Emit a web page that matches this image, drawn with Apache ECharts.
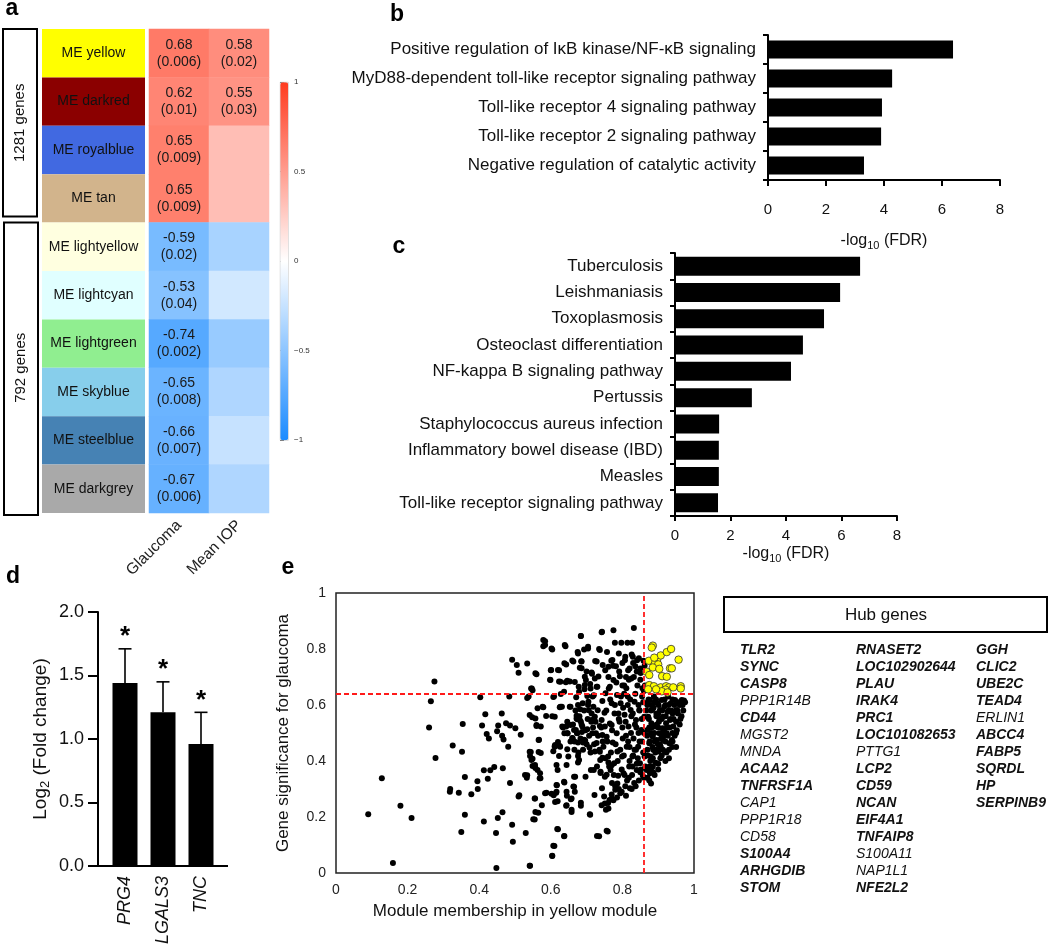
<!DOCTYPE html>
<html><head><meta charset="utf-8">
<script src="https://cdn.jsdelivr.net/npm/echarts@6/dist/echarts.min.js"></script>
<style>html,body{margin:0;padding:0;background:#fff}#c{width:1050px;height:951px}</style>
</head><body><div id="c"></div>
<script>
// ---------- DATA ----------
// Panel a: module–trait relationships
const modules = ['yellow','darkred','royalblue','tan','lightyellow','lightcyan','lightgreen','skyblue','steelblue','darkgrey'];
const traitNames = ['Glaucoma','Mean IOP'];
const glaucomaR = [0.68,0.62,0.65,0.65,-0.59,-0.53,-0.74,-0.65,-0.66,-0.67];
const glaucomaP = ['0.006','0.01','0.009','0.009','0.02','0.04','0.002','0.008','0.007','0.006'];
const iopR = [0.58,0.55,0.33,0.33,-0.38,-0.2,-0.45,-0.35,-0.25,-0.35];
const iopP = ['0.02','0.03',null,null,null,null,null,null,null,null];
const groupLabels = ['1281 genes','792 genes'];
const groupSizes = [4,6];

// Panel b: GO terms
const goTerms = ['Positive regulation of I\u03baB kinase/NF-\u03baB signaling','MyD88-dependent toll-like receptor signaling pathway','Toll-like receptor 4 signaling pathway','Toll-like receptor 2 signaling pathway','Negative regulation of catalytic activity'];
const goFDR = [6.38,4.28,3.93,3.9,3.31];

// Panel c: KEGG pathways
const keggTerms = ['Tuberculosis','Leishmaniasis','Toxoplasmosis','Osteoclast differentiation','NF-kappa B signaling pathway','Pertussis','Staphylococcus aureus infection','Inflammatory bowel disease (IBD)','Measles','Toll-like receptor signaling pathway'];
const keggFDR = [6.67,5.95,5.37,4.61,4.18,2.77,1.59,1.58,1.58,1.55];

// Panel d: qPCR
const qpcrGenes = ['PRG4','LGALS3','TNC'];
const qpcrMean = [1.44,1.21,0.96];
const qpcrErr = [0.27,0.24,0.25];
const qpcrSig = ['*','*','*'];

// Panel e: module membership vs gene significance
const mmCut = 0.865, gsCut = 0.635;
const genePoints = [
[0.09,0.21],[0.128,0.338],[0.159,0.036],[0.18,0.24],[0.211,0.196],[0.26,0.52],[0.265,0.613],[0.275,0.684],[0.278,0.411],[0.326,0.455],[0.319,0.30],[0.318,0.29],[0.343,0.287],[0.35,0.146],[0.352,0.433],[0.354,0.532],[0.36,0.343],[0.36,0.208],[0.378,0.281],[0.395,0.328],[0.396,0.30],[0.403,0.628],[0.408,0.527],[0.413,0.367],[0.413,0.184],[0.417,0.567],[0.421,0.496],[0.424,0.337],[0.427,0.48],[0.431,0.367],[0.442,0.379],[0.447,0.143],[0.448,0.018],[0.45,0.506],[0.452,0.196],[0.453,0.527],[0.463,0.57],[0.464,0.49],[0.466,0.374],[0.465,0.217],[0.468,0.477],[0.475,0.535],[0.481,0.451],[0.484,0.63],[0.486,0.321],[0.486,0.527],[0.492,0.172],[0.494,0.112],[0.492,0.762],[0.501,0.517],[0.505,0.743],[0.51,0.273],[0.512,0.278],[0.51,0.715],[0.516,0.494],[0.53,0.143],[0.533,0.34],[0.534,0.349],[0.534,0.625],[0.534,0.748],[0.538,0.63],[0.544,0.432],[0.542,0.418],[0.542,0.026],[0.545,0.659],[0.549,0.653],[0.549,0.382],[0.549,0.408],[0.551,0.192],[0.555,0.266],[0.557,0.375],[0.557,0.552],[0.557,0.218],[0.56,0.71],[0.56,0.529],[0.566,0.475],[0.566,0.432],[0.57,0.356],[0.571,0.338],[0.575,0.242],[0.577,0.594],[0.579,0.81],[0.584,0.828],[0.587,0.561],[0.588,0.287],[0.598,0.69],[0.6,0.724],[0.604,0.798],[0.604,0.062],[0.607,0.097],[0.608,0.278],[0.607,0.435],[0.609,0.63],[0.611,0.558],[0.611,0.451],[0.612,0.457],[0.615,0.287],[0.617,0.313],[0.618,0.157],[0.619,0.368],[0.619,0.256],[0.623,0.418],[0.623,0.724],[0.623,0.684],[0.626,0.451],[0.627,0.594],[0.628,0.639],[0.631,0.594],[0.634,0.52],[0.637,0.131],[0.638,0.499],[0.638,0.323],[0.641,0.81],[0.642,0.681],[0.643,0.24],[0.643,0.745],[0.643,0.523],[0.645,0.276],[0.646,0.54],[0.647,0.499],[0.649,0.416],[0.653,0.684],[0.655,0.594],[0.656,0.263],[0.658,0.226],[0.66,0.759],[0.661,0.481],[0.663,0.309],[0.666,0.44],[0.667,0.29],[0.668,0.344],[0.67,0.511],[0.671,0.628],[0.672,0.562],[0.674,0.549],[0.675,0.789],[0.676,0.466],[0.678,0.665],[0.679,0.404],[0.681,0.733],[0.682,0.585],[0.684,0.846],[0.684,0.24],[0.684,0.54],[0.685,0.756],[0.687,0.504],[0.689,0.606],[0.69,0.466],[0.693,0.798],[0.694,0.656],[0.696,0.473],[0.698,0.689],[0.7,0.72],[0.702,0.513],[0.704,0.808],[0.705,0.612],[0.706,0.581],[0.708,0.448],[0.71,0.208],[0.71,0.675],[0.712,0.368],[0.713,0.54],[0.715,0.712],[0.717,0.63],[0.719,0.594],[0.722,0.279],[0.723,0.434],[0.723,0.558],[0.724,0.757],[0.726,0.499],[0.728,0.665],[0.729,0.38],[0.731,0.581],[0.733,0.702],[0.735,0.131],[0.735,0.8],[0.737,0.525],[0.738,0.404],[0.739,0.357],[0.742,0.242],[0.742,0.86],[0.743,0.303],[0.744,0.614],[0.745,0.743],[0.747,0.451],[0.749,0.273],[0.75,0.572],[0.752,0.724],[0.754,0.226],[0.756,0.487],[0.756,0.351],[0.757,0.789],[0.759,0.148],[0.76,0.416],[0.762,0.659],[0.764,0.261],[0.765,0.534],[0.767,0.368],[0.769,0.758],[0.77,0.606],[0.771,0.321],[0.773,0.466],[0.775,0.867],[0.775,0.689],[0.777,0.392],[0.778,0.57],[0.779,0.822],[0.78,0.297],[0.782,0.738],[0.784,0.499],[0.785,0.636],[0.786,0.434],[0.788,0.347],[0.79,0.784],[0.792,0.54],[0.793,0.703],[0.794,0.285],[0.795,0.606],[0.797,0.822],[0.799,0.416],[0.8,0.75],[0.801,0.48],[0.803,0.356],[0.805,0.67],[0.806,0.565],[0.808,0.772],[0.81,0.276],[0.812,0.451],[0.814,0.822],[0.815,0.63],[0.816,0.724],[0.817,0.523],[0.819,0.38],[0.821,0.303],[0.823,0.582],[0.825,0.695],[0.827,0.822],[0.828,0.416],[0.829,0.772],[0.831,0.48],[0.832,0.875],[0.833,0.321],[0.834,0.612],[0.836,0.738],[0.838,0.546],[0.84,0.368],[0.842,0.67],[0.844,0.451],[0.846,0.767],[0.847,0.582],[0.849,0.392],[0.851,0.714],[0.853,0.511],[0.855,0.63],[0.857,0.347],[0.859,0.758],[0.861,0.558],[0.862,0.416],[0.863,0.67],
[0.868,0.606],[0.87,0.511],[0.872,0.558],[0.875,0.463],[0.877,0.618],[0.879,0.416],[0.881,0.535],[0.883,0.582],[0.885,0.487],[0.886,0.44],[0.888,0.63],[0.891,0.523],[0.893,0.394],[0.895,0.57],[0.896,0.475],[0.898,0.606],[0.9,0.434],[0.902,0.54],[0.903,0.499],[0.905,0.582],[0.907,0.451],[0.91,0.618],[0.912,0.517],[0.913,0.558],[0.914,0.475],[0.917,0.594],[0.919,0.434],[0.922,0.535],[0.924,0.499],[0.926,0.576],[0.928,0.63],[0.931,0.463],[0.933,0.546],[0.935,0.606],[0.938,0.475],[0.94,0.57],[0.942,0.523],[0.947,0.618],[0.95,0.54],[0.953,0.582],[0.959,0.606],[0.966,0.618],[0.972,0.616],[0.877,0.356],[0.868,0.368],
[0.579,0.832],[0.584,0.814],[0.602,0.802],[0.639,0.814],[0.684,0.846],[0.743,0.862],[0.704,0.802],[0.676,0.784],[0.737,0.796],[0.663,0.755],[0.686,0.755],[0.638,0.749],[0.601,0.725],[0.62,0.725],[0.557,0.713],[0.686,0.731],[0.728,0.755],[0.761,0.737],[0.772,0.761],[0.714,0.716],[0.695,0.701],[0.723,0.695],[0.599,0.689],[0.627,0.683],[0.646,0.687],[0.667,0.682],[0.695,0.671],[0.711,0.659],[0.73,0.665],[0.753,0.642],[0.547,0.659],[0.637,0.647],[0.679,0.647],[0.702,0.632],[0.72,0.635],[0.765,0.665],[0.607,0.629],[0.653,0.594],[0.676,0.6],[0.704,0.6],[0.625,0.592],[0.563,0.588],[0.579,0.592],[0.541,0.564],[0.548,0.556],[0.604,0.56],[0.672,0.552],[0.681,0.546],[0.714,0.546],[0.742,0.546],[0.632,0.523],[0.655,0.529],[0.665,0.511],[0.688,0.523],[0.56,0.525],[0.572,0.523],[0.751,0.523],[0.77,0.529],[0.646,0.499],[0.674,0.499],[0.716,0.499],[0.744,0.493],[0.66,0.482],[0.693,0.476],[0.655,0.47],[0.567,0.476],[0.62,0.468],[0.728,0.464],[0.611,0.454],[0.625,0.454],[0.646,0.442],[0.541,0.433],[0.572,0.429],[0.737,0.433],[0.676,0.418],[0.744,0.412],[0.546,0.404],[0.556,0.386],[0.676,0.395],[0.761,0.395],[0.77,0.385],[0.616,0.386],[0.644,0.386],[0.563,0.368],[0.528,0.35],[0.569,0.338],[0.739,0.362],[0.751,0.344],[0.72,0.368],[0.697,0.344],[0.665,0.344],[0.637,0.326],[0.616,0.314],[0.665,0.308],[0.584,0.285],[0.602,0.283],[0.616,0.29],[0.644,0.29],[0.658,0.266],[0.77,0.266],[0.556,0.266],[0.684,0.251],[0.612,0.254],[0.644,0.242],[0.751,0.248],[0.761,0.23],[0.658,0.218],[0.709,0.21],[0.565,0.215],[0.555,0.191],[0.729,0.132],[0.756,0.151],[0.62,0.156],[0.638,0.132],[0.61,0.096],[0.604,0.061],[0.541,0.026],
[0.79,0.55],[0.8,0.52],[0.81,0.49],[0.82,0.45],[0.83,0.42],[0.84,0.39],[0.85,0.36],[0.86,0.34],[0.855,0.47],[0.845,0.5],[0.835,0.53],[0.825,0.56],[0.815,0.6],[0.805,0.64],[0.8,0.67],[0.81,0.7],[0.82,0.73],[0.83,0.75],[0.84,0.72],[0.85,0.69],[0.86,0.65],[0.858,0.61],[0.848,0.58],[0.838,0.44],[0.828,0.38],[0.818,0.34],[0.808,0.31],[0.798,0.29],[0.78,0.31],[0.77,0.28],[0.76,0.25],[0.775,0.26],[0.785,0.27],[0.79,0.3],[0.875,0.33],[0.88,0.37],[0.89,0.35],[0.9,0.39],[0.91,0.42],[0.92,0.4],[0.93,0.44],[0.94,0.47],[0.95,0.5],[0.96,0.53],[0.955,0.57],[0.945,0.6],[0.935,0.55],[0.925,0.52],[0.915,0.49],[0.905,0.46],[0.895,0.44],[0.885,0.41],[0.876,0.38],[0.87,0.6],[0.88,0.58],[0.89,0.61],[0.9,0.57],[0.91,0.55],[0.92,0.6],[0.93,0.58],[0.94,0.62],[0.96,0.6],[0.975,0.61],[0.965,0.56],[0.9,0.52],[0.91,0.5],[0.88,0.5],[0.89,0.47],[0.87,0.44],[0.875,0.52],[0.895,0.56],[0.92,0.47],[0.94,0.5],[0.93,0.41],[0.95,0.45],[0.97,0.58],
[0.867,0.58],[0.869,0.49],[0.871,0.42],[0.873,0.62],[0.874,0.55],[0.876,0.47],[0.878,0.4],[0.88,0.6],[0.882,0.52],[0.884,0.45],[0.886,0.36],[0.887,0.59],[0.889,0.5],[0.892,0.43],[0.894,0.62],[0.896,0.53],[0.899,0.46],[0.901,0.6],[0.904,0.55],[0.906,0.41],[0.908,0.48],[0.911,0.58],[0.913,0.44],[0.916,0.51],[0.918,0.62],[0.921,0.56],[0.923,0.43],[0.927,0.49],[0.929,0.6],[0.932,0.52],[0.936,0.58],[0.939,0.45],[0.943,0.55],[0.946,0.49],[0.949,0.58],[0.952,0.51],[0.956,0.61],[0.962,0.55],[0.968,0.6],[0.885,0.38],[0.9,0.37],[0.87,0.34],[0.88,0.32],
[0.752,0.41],[0.755,0.58],[0.758,0.47],[0.761,0.7],[0.763,0.38],[0.766,0.62],[0.768,0.43],[0.771,0.51],[0.774,0.74],[0.776,0.35],[0.779,0.6],[0.781,0.46],[0.783,0.68],[0.787,0.4],[0.789,0.57],[0.791,0.72],[0.794,0.44],[0.796,0.63],[0.798,0.37],[0.802,0.59],[0.804,0.42],[0.807,0.76],[0.809,0.54],[0.811,0.66],[0.813,0.33],[0.816,0.47],[0.818,0.69],[0.82,0.4],[0.822,0.62],[0.824,0.5],[0.826,0.78],[0.827,0.35],[0.829,0.57],[0.832,0.7],[0.834,0.44],[0.836,0.64],[0.837,0.31],[0.839,0.52],[0.841,0.76],[0.843,0.41],[0.845,0.6],[0.848,0.47],[0.85,0.73],[0.852,0.37],[0.854,0.55],[0.856,0.66],[0.858,0.43],[0.86,0.5],[0.862,0.74],[0.864,0.38],[0.846,0.33],[0.826,0.3],[0.806,0.35],[0.786,0.32],
[0.662,0.53],[0.666,0.47],[0.669,0.58],[0.673,0.5],[0.677,0.43],[0.68,0.56],[0.683,0.48],[0.686,0.53],[0.69,0.44],[0.693,0.58],[0.697,0.51],[0.7,0.46],[0.703,0.55],[0.707,0.49],[0.711,0.43],[0.714,0.57],[0.718,0.52],[0.721,0.46],[0.725,0.54],[0.732,0.49],[0.736,0.44],[0.741,0.52],[0.745,0.47]
];
const hubPoints = [
[0.885,0.812],[0.882,0.805],[0.874,0.758],[0.897,0.762],[0.907,0.777],[0.924,0.789],[0.936,0.8],[0.957,0.762],[0.891,0.748],[0.9,0.745],[0.885,0.734],[0.903,0.729],[0.933,0.731],[0.938,0.731],[0.867,0.719],[0.911,0.703],[0.924,0.701],[0.875,0.707],[0.875,0.671],[0.888,0.667],[0.872,0.656],[0.907,0.663],[0.922,0.667],[0.93,0.663],[0.942,0.663],[0.963,0.667],[0.963,0.659],[0.92,0.655],[0.91,0.649],[0.926,0.645],[0.894,0.656],[0.889,0.769]
];

// Hub genes (three columns)
const hubCol1 = ['TLR2','SYNC','CASP8','PPP1R14B','CD44','MGST2','MNDA','ACAA2','TNFRSF1A','CAP1','PPP1R18','CD58','S100A4','ARHGDIB','STOM'];
const hubCol2 = ['RNASET2','LOC102902644','PLAU','IRAK4','PRC1','LOC101082653','PTTG1','LCP2','CD59','NCAN','EIF4A1','TNFAIP8','S100A11','NAP1L1','NFE2L2'];
const hubCol3 = ['GGH','CLIC2','UBE2C','TEAD4','ERLIN1','ABCC4','FABP5','SQRDL','HP','SERPINB9'];
const hubPlain = ['PPP1R14B','MGST2','MNDA','CAP1','PPP1R18','CD58','PTTG1','S100A11','NAP1L1','ERLIN1'];

// ---------- CHART ----------
const FONT = '"Liberation Sans", Arial, Helvetica, sans-serif';
const chart = echarts.init(document.getElementById('c'), null, {renderer: 'canvas'});

const heatData = [];
modules.forEach((m, i) => { heatData.push([0, i, glaucomaR[i]]); heatData.push([1, i, iopR[i]]); });

const A_TOP = 29, A_H = 484, rowH = A_H / modules.length;

const graphics = [];
// panel letters
[['a',12,9],['b',397,15],['c',399,247],['d',13,577],['e',288,568]].forEach(([t,x,y]) => {
  graphics.push({type:'text', style:{text:t, x:x, y:y, font:'bold 23px ' + FONT, fill:'#000', textAlign:'center', align:'center', textVerticalAlign:'middle', verticalAlign:'middle'}});
});
// group brackets
let start = 0;
groupLabels.forEach((g, k) => {
  const y0 = A_TOP + start * rowH, y1 = A_TOP + (start + groupSizes[k]) * rowH;
  graphics.push({type:'rect', shape:{x:3 + k, y:y0, width:34, height:y1 - y0 - (k ? -2 : 6)}, style:{fill:'none', stroke:'#000', lineWidth:2}});
  graphics.push({type:'text', x:20 + k, y:(y0 + y1) / 2 - (k ? 0 : 3), rotation:Math.PI / 2, style:{text:g, x:0, y:0, font:'15px ' + FONT, fill:'#111', textAlign:'center', align:'center', textVerticalAlign:'middle', verticalAlign:'middle'}});
  start += groupSizes[k];
});
// panel d: x-axis line extension beyond the category band
graphics.push({type:'line', shape:{x1:98, y1:866, x2:228, y2:866}, style:{stroke:'#000', lineWidth:2}});
// hub genes box
graphics.push({type:'rect', shape:{x:724, y:597, width:323, height:35}, style:{fill:'none', stroke:'#000', lineWidth:2}});
graphics.push({type:'text', style:{text:'Hub genes', x:886, y:615, font:'17px ' + FONT, fill:'#111', textAlign:'center', align:'center', textVerticalAlign:'middle', verticalAlign:'middle'}});
[hubCol1, hubCol2, hubCol3].forEach((col, c) => {
  const cx = [740, 856, 976][c];
  col.forEach((g, r) => {
    const bold = hubPlain.indexOf(g) < 0;
    graphics.push({type:'text', style:{text:g, x:cx, y:650 + r * 17, font:(bold ? 'italic bold ' : 'italic ') + '14px ' + FONT, fill:'#111', textAlign:'left', align:'left', textVerticalAlign:'middle', verticalAlign:'middle'}});
  });
});

const axisBlack = {lineStyle:{color:'#000', width:2}};
const subRich = {sub:{fontSize:11, padding:[9,0,0,0], fontFamily:FONT, color:'#111'}};

chart.setOption({
  animation: false,
  textStyle: {fontFamily: FONT},
  grid: [
    {left:42, top:A_TOP, width:103, height:A_H},   // 0 module colours
    {left:149, top:A_TOP, width:120, height:A_H},  // 1 heatmap
    {left:280, top:82, width:8, height:358},       // 2 colorbar ticks
    {left:768, top:35, width:232, height:145},     // 3 panel b
    {left:675, top:253, width:222, height:263},    // 4 panel c
    {left:106, top:612, width:114, height:254},    // 5 panel d
    {left:336, top:593, width:358, height:280, show:true, borderColor:'#222', borderWidth:1.5} // 6 panel e
  ],
  xAxis: [
    {gridIndex:0, type:'value', min:0, max:1, show:false},
    {gridIndex:1, type:'category', data:traitNames, axisLine:{show:false}, axisTick:{show:false},
      axisLabel:{rotate:45, fontSize:15.5, color:'#222', margin:10}},
    {gridIndex:2, type:'value', show:false},
    {gridIndex:3, type:'value', min:0, max:8, interval:2, axisLine:{show:true, ...axisBlack}, axisTick:{show:true, length:6, lineStyle:{color:'#000', width:2}},
      splitLine:{show:false}, axisLabel:{fontSize:15, color:'#111', margin:22},
      name:'-log{sub|10} (FDR)', nameLocation:'middle', nameGap:51, nameTextStyle:{fontSize:16, color:'#111', rich:subRich}},
    {gridIndex:4, type:'value', min:0, max:8, interval:2, axisLine:{show:true, ...axisBlack}, axisTick:{show:true, length:5, lineStyle:{color:'#000', width:2}},
      splitLine:{show:false}, axisLabel:{fontSize:15, color:'#111', margin:12},
      name:'-log{sub|10} (FDR)', nameLocation:'middle', nameGap:28, nameTextStyle:{fontSize:16, color:'#111', rich:subRich}},
    {gridIndex:5, type:'category', data:qpcrGenes, axisLine:{show:false}, axisTick:{show:false},
      axisLabel:{rotate:90, fontSize:18, fontStyle:'italic', color:'#111', margin:10}},
    {gridIndex:6, type:'value', min:0, max:1, interval:0.2, axisLine:{show:false}, axisTick:{show:false}, splitLine:{show:false},
      axisLabel:{fontSize:14, color:'#222', margin:10},
      name:'Module membership in yellow module', nameLocation:'middle', nameGap:30, nameTextStyle:{fontSize:17, color:'#111'}}
  ],
  yAxis: [
    {gridIndex:0, type:'category', data:modules, inverse:true, show:false},
    {gridIndex:1, type:'category', data:modules, inverse:true, show:false},
    {gridIndex:2, type:'value', min:-1, max:1, interval:0.5, position:'right', axisLine:{show:false},
      axisTick:{show:true, length:4, lineStyle:{color:'#666', width:1}}, splitLine:{show:false},
      axisLabel:{fontSize:8, color:'#333', margin:6, formatter: v => (v < 0 ? '\u2212' + Math.abs(v) : String(v))}},
    {gridIndex:3, type:'category', data:goTerms, inverse:true, axisLine:{show:true, ...axisBlack},
      axisTick:{show:true, length:5, lineStyle:{color:'#000', width:2}}, axisLabel:{fontSize:17, color:'#111', margin:12}},
    {gridIndex:4, type:'category', data:keggTerms, inverse:true, axisLine:{show:true, ...axisBlack},
      axisTick:{show:true, length:5, lineStyle:{color:'#000', width:2}}, axisLabel:{fontSize:17, color:'#111', margin:12}},
    {gridIndex:5, type:'value', min:0, max:2, interval:0.5, offset:8, axisLine:{show:true, ...axisBlack},
      axisTick:{show:true, length:10, lineStyle:{color:'#000', width:2}}, splitLine:{show:false},
      axisLabel:{fontSize:18, color:'#111', margin:14, formatter: v => v.toFixed(1)},
      name:'Log{sub|2} (Fold change)', nameLocation:'middle', nameGap:46, nameRotate:90,
      nameTextStyle:{fontSize:19, color:'#111', rich:{sub:{fontSize:13, padding:[10,0,0,0], color:'#111'}}}},
    {gridIndex:6, type:'value', min:0, max:1, interval:0.2, axisLine:{show:false}, axisTick:{show:false}, splitLine:{show:false},
      axisLabel:{fontSize:14, color:'#222', margin:10},
      name:'Gene significance for glaucoma', nameLocation:'middle', nameGap:44, nameTextStyle:{fontSize:17, color:'#111'}}
  ],
  visualMap: {
    type:'continuous', min:-1, max:1, seriesIndex:1, calculable:false, left:280, top:82, itemWidth:8, itemHeight:358,
    padding:0, text:null, inRange:{color:['#1b8bff','#ffffff','#ff3b1f']}, borderColor:'#aaa', borderWidth:0.5
  },
  series: [
    {type:'bar', xAxisIndex:0, yAxisIndex:0, data:modules.map(() => 1), barWidth:'100%', silent:true,
      itemStyle:{color: p => modules[p.dataIndex]},
      label:{show:true, position:'inside', formatter: p => 'ME ' + p.name, fontSize:14, color:'#111'}},
    {type:'heatmap', xAxisIndex:1, yAxisIndex:1, data:heatData, silent:true,
      label:{show:true, fontSize:14, lineHeight:17, color:'#1a1a1a', formatter: p => {
        const pv = p.data[0] === 0 ? glaucomaP[p.data[1]] : iopP[p.data[1]];
        return pv ? p.data[2].toFixed(2) + '\n(' + pv + ')' : '';
      }}},
    {type:'bar', xAxisIndex:3, yAxisIndex:3, data:goFDR, barWidth:18, itemStyle:{color:'#000'}, silent:true},
    {type:'bar', xAxisIndex:4, yAxisIndex:4, data:keggFDR, barWidth:19, itemStyle:{color:'#000'}, silent:true},
    {type:'bar', xAxisIndex:5, yAxisIndex:5, data:qpcrMean, barWidth:25, itemStyle:{color:'#000'}, silent:true},
    {type:'custom', xAxisIndex:5, yAxisIndex:5, silent:true,
      data: qpcrMean.map((m, i) => [i, m, qpcrErr[i]]),
      renderItem: (params, api) => {
        const base = api.coord([api.value(0), api.value(1)]);
        const top = api.coord([api.value(0), api.value(1) + api.value(2)]);
        const hw = 6.5;
        return {type:'group', children:[
          {type:'line', shape:{x1:base[0], y1:base[1], x2:top[0], y2:top[1]}, style:{stroke:'#000', lineWidth:1.6}},
          {type:'line', shape:{x1:top[0] - hw, y1:top[1], x2:top[0] + hw, y2:top[1]}, style:{stroke:'#000', lineWidth:1.6}},
          {type:'text', style:{text:qpcrSig[params.dataIndex], x:top[0], y:top[1] - 12, font:'bold 26px ' + FONT, fill:'#000',
            textAlign:'center', align:'center', textVerticalAlign:'middle', verticalAlign:'middle'}}
        ]};
      }},
    {type:'scatter', xAxisIndex:6, yAxisIndex:6, data:genePoints, symbolSize:6, itemStyle:{color:'#000', opacity:1}, silent:true,
      markLine:{silent:true, symbol:'none', label:{show:false}, lineStyle:{color:'#ff1a1a', type:[5,3], width:1.8},
        data:[{xAxis:mmCut}, {yAxis:gsCut}]}},
    {type:'scatter', xAxisIndex:6, yAxisIndex:6, data:hubPoints, symbolSize:7.5, silent:true,
      itemStyle:{color:'#ffff00', borderColor:'#333', borderWidth:0.8, opacity:1}}
  ],
  graphic: graphics
});
</script></body></html>
